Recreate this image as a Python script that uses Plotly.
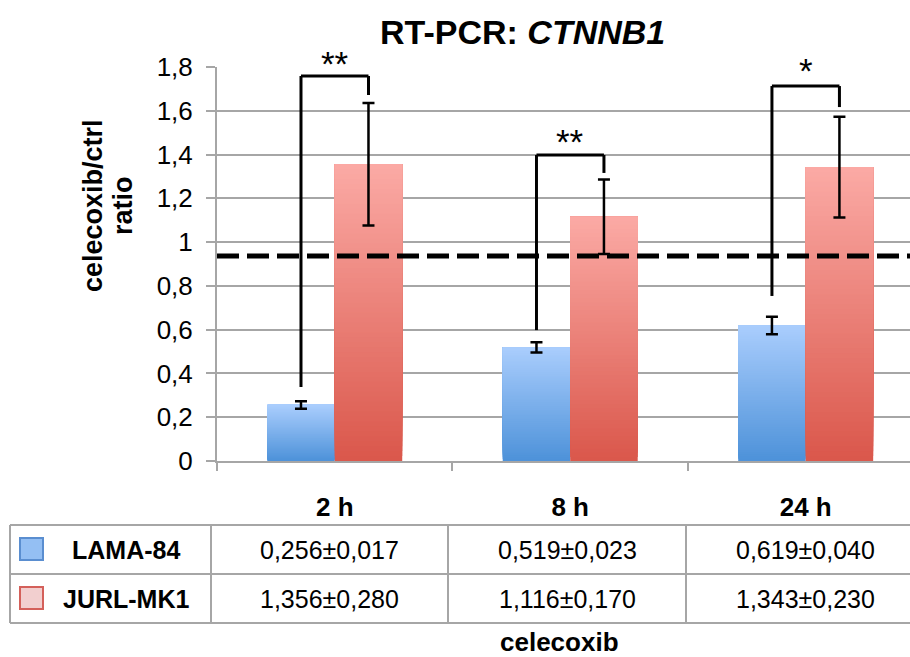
import plotly.graph_objects as go

# ---------------- data ----------------
categories = ["2 h", "8 h", "24 h"]
series_names = ["LAMA-84", "JURL-MK1"]
lama_mean = [0.256, 0.519, 0.619]
lama_sd = [0.017, 0.023, 0.040]
jurl_mean = [1.356, 1.116, 1.343]
jurl_sd = [0.280, 0.170, 0.230]
reference_level = 0.936
sig_labels = ["**", "**", "*"]
bracket_left_y = [0.338, 0.598, 0.754]
bracket_top_y = [1.759, 1.398, 1.713]
bracket_right_y = [1.672, 1.316, 1.617]
sig_label_y = [1.815, 1.459, 1.783]
y_range = [0, 1.8]

# ---------------- style ----------------
FONT = "Liberation Sans, Arial, Helvetica, sans-serif"
GRID = "#a6a6a6"
BW = 0.2866  # bar width in category units
OFFSETS = [-BW, 0.0]
GRAD = [("#4d92d9", "#aacdfd"), ("#da574b", "#fbaaa5")]
N_STEPS = 60

W, H = 910, 657
PL, PR, PT, PB = 217, 910, 67, 461


def fx(px):
    return (px - PL) / (PR - PL)


def fy(py):
    return (PB - py) / (PB - PT)


def hex2rgb(h):
    h = h.lstrip("#")
    return tuple(int(h[i:i + 2], 16) for i in (0, 2, 4))


def lerp(c1, c2, t):
    a, b = hex2rgb(c1), hex2rgb(c2)
    return "rgb(%d,%d,%d)" % tuple(round(a[i] + (b[i] - a[i]) * t) for i in range(3))


fig = go.Figure()

means_all = [lama_mean, jurl_mean]
sds_all = [lama_sd, jurl_sd]

# gradient bars (each bar rendered as overlapping slices of itself)
for s in range(2):
    means = means_all[s]
    bottom, top = GRAD[s]
    for k in range(N_STEPS):
        t = k / N_STEPS
        fig.add_trace(go.Bar(
            x=categories,
            y=[m * (1 - t) for m in means],
            base=[m * t for m in means],
            offset=OFFSETS[s], width=BW,
            marker=dict(color=lerp(bottom, top, (k + 0.5) / N_STEPS), line=dict(width=0)),
            showlegend=False, hoverinfo="skip",
        ))

# error bars
for s in range(2):
    fig.add_trace(go.Bar(
        x=categories, y=means_all[s], name=series_names[s],
        offset=OFFSETS[s], width=BW,
        marker=dict(color="rgba(0,0,0,0)", line=dict(width=0)),
        error_y=dict(type="data", array=sds_all[s], color="black", thickness=2.5, width=6),
        showlegend=False,
    ))

shapes = []
annotations = []

# reference dashed line
shapes.append(dict(type="line", xref="paper", yref="y", x0=0, x1=1,
                   y0=reference_level, y1=reference_level,
                   line=dict(color="black", width=5, dash="22px,8px")))

# significance brackets
for i in range(len(categories)):
    xl = i + OFFSETS[0] + BW / 2
    xr = i + OFFSETS[1] + BW / 2
    ln = dict(color="black", width=3)
    shapes.append(dict(type="line", xref="x", yref="y", x0=xl, x1=xl,
                       y0=bracket_left_y[i], y1=bracket_top_y[i], line=ln))
    shapes.append(dict(type="line", xref="x", yref="y", x0=xl, x1=xr,
                       y0=bracket_top_y[i], y1=bracket_top_y[i], line=ln))
    shapes.append(dict(type="line", xref="x", yref="y", x0=xr, x1=xr,
                       y0=bracket_top_y[i], y1=bracket_right_y[i], line=ln))
    # label may sit above the axis range, so place it in paper units
    annotations.append(dict(x=i, y=(sig_label_y[i] - y_range[0]) / (y_range[1] - y_range[0]),
                            xref="x", yref="paper",
                            text=sig_labels[i], showarrow=False,
                            xanchor="center", yanchor="middle",
                            font=dict(family=FONT, size=35, color="black")))

# ---------------- data table ----------------
row_y = [525, 574, 623]
col_x = [10, 211, 448, 686, 924]
tl = dict(color=GRID, width=2)
for ry in row_y:
    shapes.append(dict(type="line", xref="paper", yref="paper",
                       x0=fx(col_x[0]), x1=fx(col_x[-1]), y0=fy(ry), y1=fy(ry), line=tl))
for cx in col_x:
    shapes.append(dict(type="line", xref="paper", yref="paper",
                       x0=fx(cx), x1=fx(cx), y0=fy(row_y[0]), y1=fy(row_y[-1]), line=tl))

legend_fill = ["#94bff3", "#f2cfcf"]
legend_line = ["#5a8ed0", "#d4605a"]
for s in range(2):
    y0 = row_y[s] + 13
    shapes.append(dict(type="rect", xref="paper", yref="paper",
                       x0=fx(20), x1=fx(43), y0=fy(y0), y1=fy(y0 + 22),
                       fillcolor=legend_fill[s], line=dict(color=legend_line[s], width=2)))
    yc = (row_y[s] + row_y[s + 1]) / 2
    annotations.append(dict(x=fx(126), y=fy(yc), xref="paper", yref="paper",
                            text="<b>%s</b>" % series_names[s], showarrow=False,
                            xanchor="center", yanchor="middle",
                            font=dict(family=FONT, size=25, color="black")))
    for i in range(len(categories)):
        txt = ("%.3f±%.3f" % (means_all[s][i], sds_all[s][i])).replace(".", ",")
        cxc = (col_x[i + 1] + col_x[i + 2]) / 2
        annotations.append(dict(x=fx(cxc), y=fy(yc), xref="paper", yref="paper",
                                text=txt, showarrow=False,
                                xanchor="center", yanchor="middle",
                                font=dict(family=FONT, size=25, color="black")))

# titles
annotations.append(dict(x=fx(522), y=fy(32), xref="paper", yref="paper",
                        text="<b>RT-PCR: <i>CTNNB1</i></b>", showarrow=False,
                        xanchor="center", yanchor="middle",
                        font=dict(family=FONT, size=34, color="black")))
annotations.append(dict(x=fx(93), y=fy(206), xref="paper", yref="paper",
                        text="<b>celecoxib/ctrl</b>", showarrow=False, textangle=-90,
                        xanchor="center", yanchor="middle",
                        font=dict(family=FONT, size=27, color="black")))
annotations.append(dict(x=fx(123), y=fy(206), xref="paper", yref="paper",
                        text="<b>ratio</b>", showarrow=False, textangle=-90,
                        xanchor="center", yanchor="middle",
                        font=dict(family=FONT, size=27, color="black")))
annotations.append(dict(x=fx(559), y=fy(642), xref="paper", yref="paper",
                        text="<b>celecoxib</b>", showarrow=False,
                        xanchor="center", yanchor="middle",
                        font=dict(family=FONT, size=26, color="black")))

fig.update_layout(
    width=W, height=H,
    margin=dict(l=PL, r=W - PR, t=PT, b=H - PB, pad=0),
    paper_bgcolor="white", plot_bgcolor="white",
    barmode="overlay",
    separators=",.",
    showlegend=False,
    shapes=shapes, annotations=annotations,
    font=dict(family=FONT, color="black"),
)
fig.update_xaxes(
    type="category", range=[-0.5, 2.443],
    showline=True, linecolor=GRID, linewidth=2,
    ticks="outside", tickson="boundaries", ticklen=8, tickcolor=GRID, tickwidth=2,
    tickfont=dict(family=FONT, size=26, color="black", weight="bold"),
    ticklabelstandoff=22,
    showgrid=False, zeroline=False,
)
fig.update_yaxes(
    range=y_range, dtick=0.2, tick0=0,
    showline=True, linecolor=GRID, linewidth=2,
    ticks="outside", ticklen=9, tickcolor=GRID, tickwidth=2,
    tickfont=dict(family=FONT, size=26, color="black"),
    ticklabelstandoff=8,
    showgrid=True, gridcolor=GRID, gridwidth=2,
    zeroline=False,
)

fig.write_html("out.html")
